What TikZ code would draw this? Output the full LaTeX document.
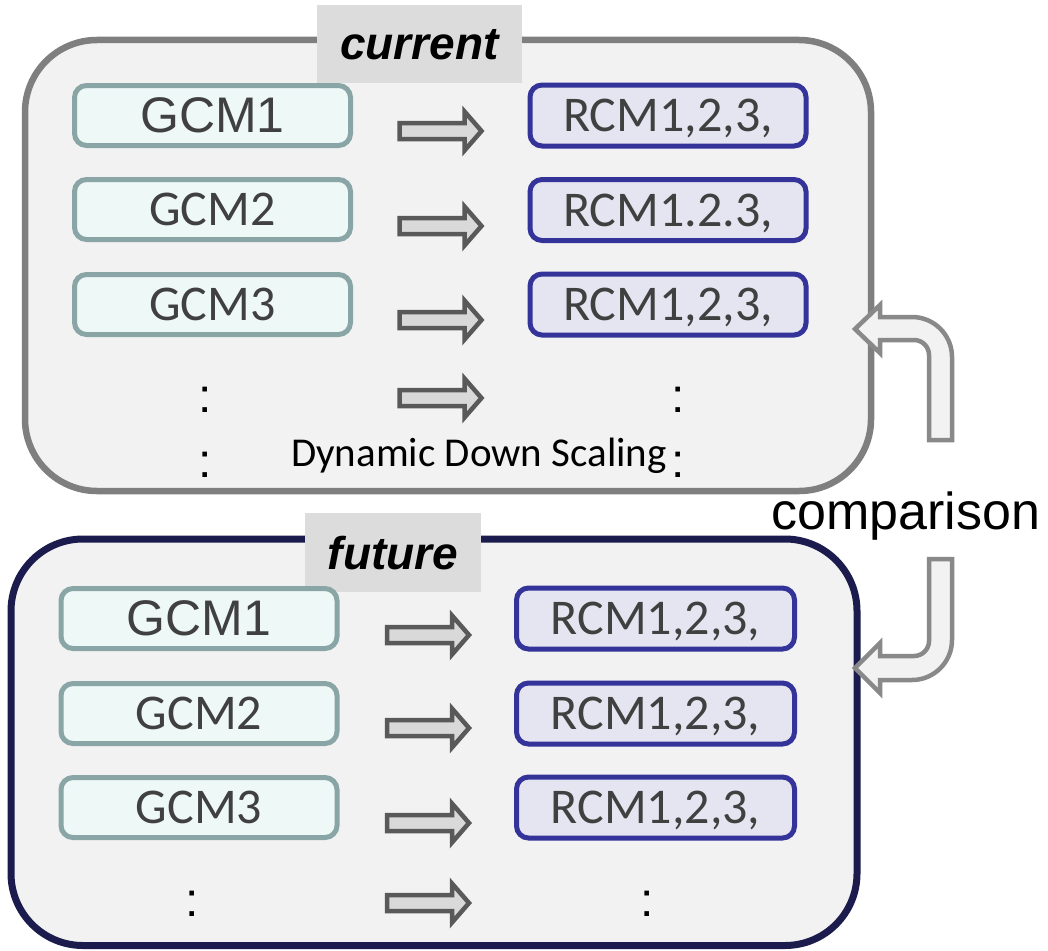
\documentclass[tikz,border=0pt]{standalone}
\usepackage{fontspec}
\newfontfamily\arialf{Liberation Sans}
\newfontfamily\calf{Carlito}
\definecolor{outergray}{HTML}{7F7F7F}
\definecolor{bgfill}{HTML}{F2F2F2}
\definecolor{navy}{HTML}{1B1B4D}
\definecolor{labelfill}{HTML}{DCDCDC}
\definecolor{gcmdraw}{HTML}{8AA5A6}
\definecolor{gcmfill}{HTML}{EEF8F7}
\definecolor{rcmdraw}{HTML}{333399}
\definecolor{rcmfill}{HTML}{E5E5F1}
\definecolor{arrdraw}{HTML}{595959}
\definecolor{arrfill}{HTML}{D9D9D9}
\definecolor{cmpdraw}{HTML}{898989}
\definecolor{txtgray}{HTML}{404040}
\begin{document}
\begin{tikzpicture}[x=1pt,y=-1pt,
  outerbox/.style={draw, fill=bgfill, rounded corners=72pt, inner sep=0pt},
  labelbox/.style={fill=labelfill, inner sep=0pt, text depth=0pt, font=\arialf\bfseries\itshape\fontsize{46}{50}\selectfont},
  gcmbox/.style={draw=gcmdraw, fill=gcmfill, line width=5pt, rounded corners=12pt, minimum width=276pt, minimum height=60pt, inner sep=0pt, text depth=0pt, text=txtgray},
  rcmbox/.style={draw=rcmdraw, fill=rcmfill, line width=5pt, rounded corners=12pt, minimum width=276pt, minimum height=61pt, inner sep=0pt, text depth=0pt, text=txtgray, font=\calf\fontsize{50}{56}\selectfont},
  fa/.style={font=\arialf\fontsize{50}{56}\selectfont},
  fc/.style={font=\calf\fontsize{50}{56}\selectfont},
  blockarr/.style={draw=arrdraw, fill=arrfill, line width=4.5pt, line join=miter},
  cmparr/.style={draw=cmpdraw, fill=bgfill, line width=4.5pt, line join=miter},
  dots/.style={anchor=base, inner sep=0pt, font=\arialf\fontsize{48}{52}\selectfont}
]
\useasboundingbox (0,0) rectangle (1048,950);

% outer boxes
\node[outerbox, draw=outergray, line width=6.5pt, minimum width=846pt, minimum height=451pt] (cur) at (448,265.5) {};
\node[outerbox, draw=navy, line width=7pt, minimum width=846pt, minimum height=406.5pt] (fut) at (434,742.25) {};

% labels
\node[labelbox, minimum width=205pt, minimum height=78pt] (curlab) at (419.5,44) {current};
\node[labelbox, minimum width=176pt, minimum height=79pt] (futlab) at (393,552.5) {future};

% current rows
\node[gcmbox, fa] (g1) at (212.5,115.5) {GCM1};
\node[gcmbox, fc] (g2) at (212.5,209.5) {GCM2};
\node[gcmbox, fc] (g3) at (212.5,304.5) {GCM3};
\node[rcmbox] (r1) at (668,115.5) {RCM1,2,3,};
\node[rcmbox] (r2) at (668,210) {RCM1.2.3,};
\node[rcmbox] (r3) at (668,304.5) {RCM1,2,3,};

% future rows
\node[gcmbox, fa] (fg1) at (199,618.5) {GCM1};
\node[gcmbox, fc] (fg2) at (199,713.5) {GCM2};
\node[gcmbox, fc] (fg3) at (199,807.5) {GCM3};
\node[rcmbox, minimum width=278pt] (fr1) at (655.5,618.5) {RCM1,2,3,};
\node[rcmbox, minimum width=278pt] (fr2) at (655.5,713.5) {RCM1,2,3,};
\node[rcmbox, minimum width=278pt] (fr3) at (655.5,807.5) {RCM1,2,3,};

% block arrows
\foreach \cx/\cy in {440.5/131, 440.5/226, 440.5/320, 440.5/398, 428/635, 428/728, 428/823, 428/903}{
  \draw[blockarr, shift={(\cx,\cy)}] (-41,-8) -- (24,-8) -- (24,-19.5) -- (41,0) -- (24,19.5) -- (24,8) -- (-41,8) -- cycle;
}

% dots
\node[dots] (d1) at (205,412) {:};
\node[dots] (d2) at (205,477) {:};
\node[dots] (d3) at (678,412) {:};
\node[dots] (d4) at (678,477) {:};
\node[dots] (d5) at (192,916) {:};
\node[dots] (d6) at (647,916) {:};

\node[anchor=base west, inner sep=0pt, font=\calf\fontsize{41}{45}\selectfont] (dds) at (291,466) {Dynamic Down Scaling};

% comparison arrows
\draw[cmparr] (929,440) -- (952,440) -- (952,357) arc[start angle=0, end angle=-90, radius=40] -- (880,317) -- (880,305) -- (855,329) -- (880,353) -- (880,340) -- (914,340) arc[start angle=-90, end angle=0, radius=15] -- cycle;
\draw[cmparr] (929,559) -- (952,559) -- (952,640) arc[start angle=0, end angle=90, radius=40] -- (880,680) -- (880,693) -- (855,668) -- (880,643) -- (880,656) -- (914,656) arc[start angle=90, end angle=0, radius=15] -- cycle;

\node[anchor=base west, inner sep=0pt, font=\arialf\fontsize{52}{56}\selectfont] (cmp) at (771,529) {comparison};
\end{tikzpicture}
\end{document}
